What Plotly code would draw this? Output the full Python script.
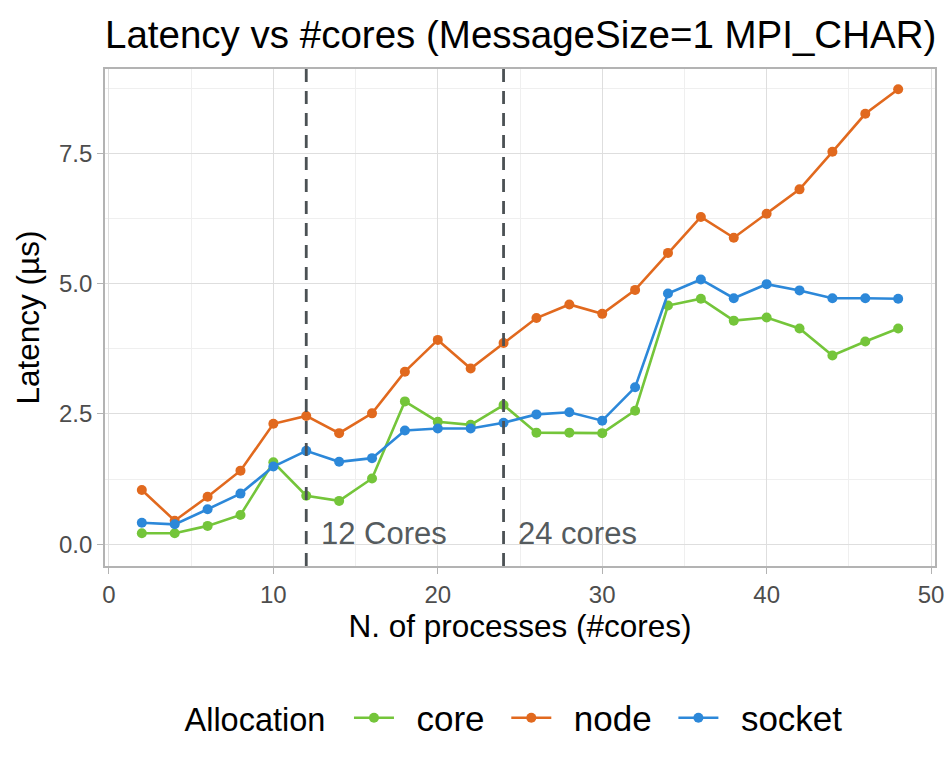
import plotly.graph_objects as go

cores = [2, 4, 6, 8, 10, 12, 14, 16, 18, 20, 22, 24, 26, 28, 30, 32, 34, 36, 38, 40, 42, 44, 46, 48]
core_lat = [0.21, 0.21, 0.35, 0.56, 1.57, 0.93, 0.83, 1.26, 2.74, 2.35, 2.29, 2.67, 2.14, 2.14, 2.13, 2.56,
            4.58, 4.71, 4.29, 4.35, 4.14, 3.62, 3.89, 4.14]
node_lat = [1.04, 0.45, 0.91, 1.41, 2.31, 2.46, 2.13, 2.51, 3.31, 3.92, 3.37, 3.86, 4.34, 4.60, 4.42, 4.88,
            5.59, 6.28, 5.88, 6.34, 6.81, 7.53, 8.26, 8.73]
socket_lat = [0.41, 0.38, 0.67, 0.97, 1.49, 1.79, 1.58, 1.65, 2.18, 2.22, 2.22, 2.33, 2.49, 2.53, 2.37, 3.01,
              4.81, 5.08, 4.72, 4.99, 4.87, 4.72, 4.72, 4.71]

series_names = ["core", "node", "socket"]
series_colors = ["#74C53A", "#E1691E", "#2C88D9"]

vline_x = [12, 24]
vline_labels = ["12 Cores", "24 cores"]
label_x = [12.8, 24.75]
label_y = 0.21

x_ticks = [0, 10, 20, 30, 40, 50]
y_ticks = [0.0, 2.5, 5.0, 7.5]

FONT = "Liberation Sans, Arial, Helvetica, sans-serif"
OFF = 8  # page body margin

fig = go.Figure()
for name, vals, col in zip(series_names, [core_lat, node_lat, socket_lat], series_colors):
    fig.add_trace(go.Scatter(
        x=cores, y=vals, mode="lines+markers", name="\u2002" + name + "\u00a0\u2009",
        line=dict(color=col, width=2.6),
        marker=dict(color=col, size=10),
    ))

for vx in vline_x:
    fig.add_shape(type="line", xref="x", yref="paper", x0=vx, x1=vx, y0=0, y1=1,
                  line=dict(color="#4B5154", width=2.8, dash="13px,9px"), layer="above")

for lx, txt in zip(label_x, vline_labels):
    fig.add_annotation(x=lx, y=label_y, xref="x", yref="y", text=txt, showarrow=False,
                       xanchor="left", yanchor="middle",
                       font=dict(family=FONT, size=31, color="#555B5E"))

fig.update_layout(
    width=952, height=774,
    margin=dict(l=105 - OFF, r=17 + OFF, t=69 - OFF, b=208 + OFF, autoexpand=False),
    paper_bgcolor="white", plot_bgcolor="white",
    font=dict(family=FONT, color="black"),
    title=dict(text="Latency vs #cores (MessageSize=1 MPI_CHAR)", x=(105 - OFF) / 952, xanchor="left",
               xref="container", yref="container",
               y=1 - (35 - OFF) / 774, yanchor="middle", font=dict(size=38.5, color="black")),
    showlegend=True,
    legend=dict(orientation="h", x=(523.5 - OFF) / 952, xanchor="center", xref="container",
                y=1 - (718 - OFF) / 774, yanchor="middle", yref="container",
                title=dict(text="Allocation\u00a0\u2009", side="left", font=dict(size=32.5)),
                font=dict(size=35), itemwidth=40, bgcolor="rgba(0,0,0,0)"),
)

fig.update_xaxes(
    range=[-0.24, 50.24], tickvals=x_ticks, ticktext=[str(v) for v in x_ticks],
    automargin=False,
    showgrid=True, gridcolor="#DEDEDE", gridwidth=1.3,
    minor=dict(showgrid=True, gridcolor="#EFEFEF", gridwidth=1, dtick=5, tick0=0),
    zeroline=False, showline=True, linecolor="#B3B3B3", linewidth=1.6, mirror=True,
    ticks="outside", ticklen=6, tickcolor="#B3B3B3", tickwidth=1.4,
    tickfont=dict(size=24, color="#4D4D4D"),
    title=dict(text="N. of processes (#cores)", font=dict(size=31.5, color="black"), standoff=6),
)
fig.update_yaxes(
    range=[-0.42, 9.12], tickvals=y_ticks, ticktext=[f"{v:.1f}" for v in y_ticks],
    automargin=False,
    showgrid=True, gridcolor="#DEDEDE", gridwidth=1.3,
    minor=dict(showgrid=True, gridcolor="#EFEFEF", gridwidth=1, dtick=1.25, tick0=0),
    zeroline=False, showline=True, linecolor="#B3B3B3", linewidth=1.6, mirror=True,
    ticks="outside", ticklen=6, tickcolor="#B3B3B3", tickwidth=1.4,
    tickfont=dict(size=24, color="#4D4D4D"),
    title=dict(text="Latency (µs)", font=dict(size=31.5, color="black"), standoff=10),
)

fig.write_html("out.html")
